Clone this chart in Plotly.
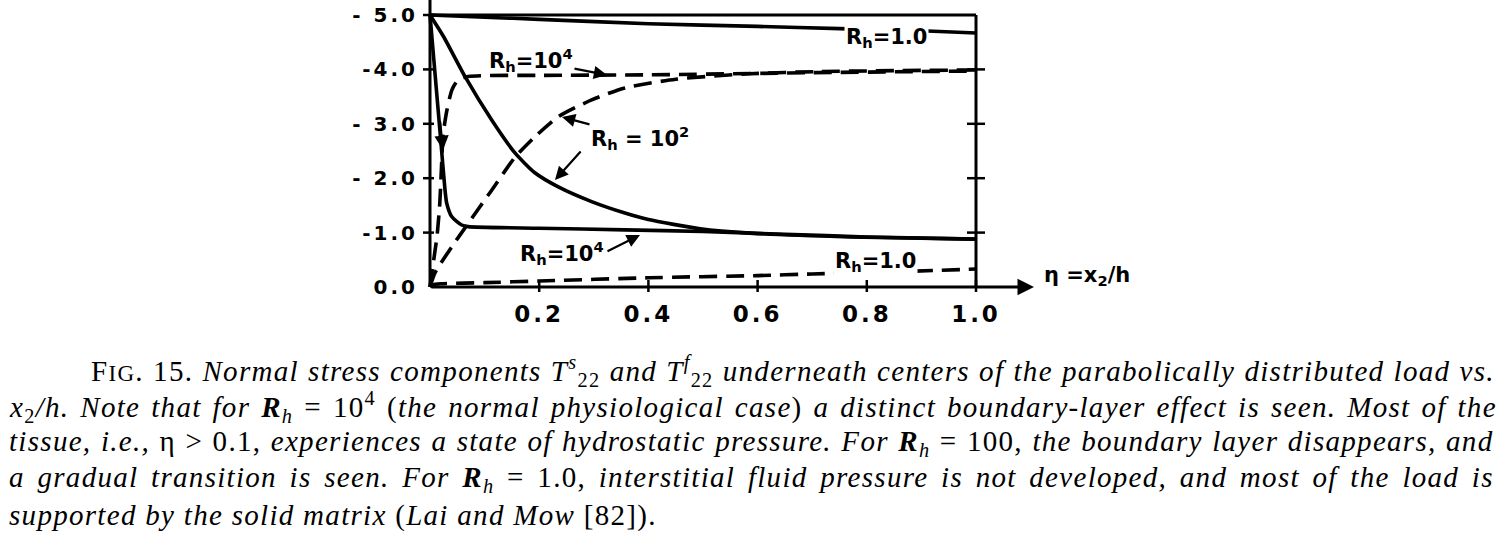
import re
import plotly.graph_objects as go

# ---------------- data ----------------
# Rh = 1.0
eta_s1 = [0, 0.1, 0.2, 0.4, 0.6, 0.75, 0.9, 1.0]
val_s1 = [-5.0, -4.96, -4.92, -4.84, -4.79, -4.75, -4.71, -4.67]
eta_f1 = [0, 0.005, 0.02, 0.1, 0.2, 0.4, 0.6, 0.7, 0.85, 1.0]
val_f1 = [0, -0.04, -0.06, -0.08, -0.11, -0.17, -0.21, -0.24, -0.28, -0.33]
# Rh = 10^2
eta_s2 = [0, 0.025, 0.064, 0.113, 0.156, 0.192, 0.235, 0.296, 0.357, 0.4, 0.495, 0.586, 0.77, 1.0]
val_s2 = [-5.0, -4.6, -3.87, -3.07, -2.46, -2.1, -1.84, -1.57, -1.36, -1.24, -1.07, -0.99, -0.92, -0.88]
eta_f2 = [0, 0.009, 0.04, 0.07, 0.113, 0.156, 0.192, 0.235, 0.296, 0.357, 0.45, 0.586, 0.71, 1.0]
val_f2 = [0, -0.26, -0.74, -1.17, -1.78, -2.39, -2.76, -3.13, -3.44, -3.66, -3.82, -3.92, -3.96, -3.99]
# Rh = 10^4
eta_s4 = [0, 0.007, 0.014, 0.021, 0.0275, 0.0306, 0.04, 0.058, 0.07, 0.2, 0.357, 0.5, 0.65, 0.8, 1.0]
val_s4 = [-5.0, -4.18, -3.36, -2.54, -1.78, -1.54, -1.29, -1.14, -1.11, -1.08, -1.05, -1.02, -0.97, -0.92, -0.88]
eta_f4 = [0, 0.005, 0.013, 0.018, 0.021, 0.024, 0.031, 0.04, 0.051, 0.07, 0.2, 0.4, 0.7, 1.0]
val_f4 = [0, -0.37, -0.95, -1.55, -2.2, -2.8, -3.25, -3.62, -3.8, -3.87, -3.89, -3.9, -3.94, -3.97]

y_tickvals = [0, -1, -2, -3, -4, -5]
y_ticktext = ["0.0", "-1.0", "- 2.0", "- 3.0", "-4.0", "- 5.0"]
x_tickvals = [0.2, 0.4, 0.6, 0.8, 1.0]
x_ticktext = ["0.2", "0.4", "0.6", "0.8", "1.0"]

caption_lines = [
    "F<span style='font-size:23px'>IG</span>. 15. <i>Normal stress components T</i><sup><i>s</i></sup><sub>22</sub> <i>and T</i><sup><i>f</i></sup><sub>22</sub> <i>underneath centers of the parabolically distributed load vs.</i>",
    "<i>x</i><sub>2</sub><i>/h. Note that for </i><b><i>R</i></b><sub><i>h</i></sub> = 10<sup>4</sup> (<i>the normal physiological case</i>) <i>a distinct boundary-layer effect is seen. Most of the</i>",
    "<i>tissue, i.e., </i>η > 0.1, <i>experiences a state of hydrostatic pressure. For </i><b><i>R</i></b><sub><i>h</i></sub> = 100, <i>the boundary layer disappears, and</i>",
    "<i>a gradual transition is seen. For </i><b><i>R</i></b><sub><i>h</i></sub> = 1.0, <i>interstitial fluid pressure is not developed, and most of the load is</i>",
    "<i>supported by the solid matrix </i>(<i>Lai and Mow</i> [82]).",
]

# ---------------- layout geometry ----------------
W, H = 1508, 545
L, R, T, B = 419, 463, 0, 251
PX0, PX1 = 430, 976          # pixel of eta=0 and eta=1
PY0, PY5 = 287, 15           # pixel of 0.0 and -5.0
sx = (PX1 - PX0)
sy = (PY0 - PY5) / 5.0
xr = [-(PX0 - L) / sx, 1 + (W - R - PX1) / sx]
yr = [(H - B - PY0) / sy, -(PY0 - T) / sy]
PW = W - L - R
PH = H - T - B


def paper_x(px):
    return (px - L) / PW


def paper_y(py):
    return (H - B - py) / PH


def dx(px):
    return (px - PX0) / sx


def dy(py):
    return -(PY0 - py) / sy


# ---- approximate Times metrics (Liberation Serif is metric compatible) for justification ----
_ROMAN = dict(zip(" (),-./0123456789=>[]", [250, 333, 333, 250, 333, 250, 278] + [500] * 10 + [564, 564, 333, 333]))
_ROMAN.update(dict(zip("ABCDEFGHIJKLMNOPQRSTUVWXYZ",
                       [722, 667, 667, 722, 611, 556, 722, 722, 333, 389, 722, 611, 889, 722, 722, 556, 722, 667, 556, 611, 722, 722, 944, 722, 722, 611])))
_ROMAN.update(dict(zip("abcdefghijklmnopqrstuvwxyz",
                       [444, 500, 444, 500, 444, 333, 500, 500, 278, 278, 500, 278, 778, 500, 500, 500, 500, 333, 389, 278, 500, 500, 722, 500, 500, 444])))
_ROMAN["η"] = 500
_ITAL = dict(_ROMAN)
_ITAL.update(dict(zip("ABCDEFGHIJKLMNOPQRSTUVWXYZ",
                      [611, 611, 667, 722, 611, 611, 722, 722, 333, 444, 667, 556, 833, 667, 722, 611, 722, 611, 500, 556, 722, 611, 833, 611, 556, 556])))
_ITAL.update(dict(zip("abcdefghijklmnopqrstuvwxyz",
                      [500, 500, 444, 500, 444, 278, 500, 500, 278, 278, 444, 278, 722, 500, 500, 500, 500, 389, 389, 278, 500, 444, 667, 444, 444, 389])))
_ITAL[" "] = 250


def measure(html, size, ls):
    width, nsp = 0.0, 0
    ital = bold = False
    scale = [1.0]
    for tok in re.split(r"(<[^>]+>)", html):
        if tok.startswith("<"):
            t = tok.lower()
            if t == "<i>":
                ital = True
            elif t == "</i>":
                ital = False
            elif t == "<b>":
                bold = True
            elif t == "</b>":
                bold = False
            elif t in ("<sub>", "<sup>"):
                scale.append(scale[-1] * 0.7)
            elif t in ("</sub>", "</sup>", "</span>"):
                scale.pop()
            elif t.startswith("<span"):
                m = re.search(r"font-size:(\d+)px", t)
                scale.append(float(m.group(1)) / size if m else scale[-1])
            continue
        for ch in tok:
            table = _ITAL if ital else _ROMAN
            w = table.get(ch, 500)
            if bold and ch == "R":
                w = 667
            width += w / 1000.0 * size * scale[-1] + ls
            if ch == " ":
                nsp += 1
    return width, nsp


LW = 3.6
DASH = "18px,9px"
fig = go.Figure()
for ex, vy, dash in [
    (eta_s1, val_s1, "solid"), (eta_f1, val_f1, DASH),
    (eta_s2, val_s2, "solid"), (eta_f2, val_f2, DASH),
    (eta_s4, val_s4, "solid"), (eta_f4, val_f4, DASH),
]:
    fig.add_trace(go.Scatter(x=ex, y=vy, mode="lines",
                             line=dict(color="black", width=LW, dash=dash, shape="spline", smoothing=0.6),
                             hoverinfo="skip", showlegend=False))

shapes = []
FW = 3
shapes.append(dict(type="line", xref="x", yref="y", x0=0, x1=0, y0=0, y1=yr[1], line=dict(color="black", width=FW)))
shapes.append(dict(type="line", xref="x", yref="y", x0=0, x1=1, y0=-5, y1=-5, line=dict(color="black", width=FW)))
shapes.append(dict(type="line", xref="x", yref="y", x0=1, x1=1, y0=0, y1=-5, line=dict(color="black", width=FW)))
for v in x_tickvals:
    shapes.append(dict(type="line", xref="x", yref="y", x0=v, x1=v, y0=5 / sy, y1=-7 / sy,
                       line=dict(color="black", width=2.5)))
for v in [-1, -2, -3, -4, -5]:
    shapes.append(dict(type="line", xref="x", yref="y", x0=-7 / sx, x1=4 / sx, y0=v, y1=v,
                       line=dict(color="black", width=2.5)))
for v in [-1, -2, -3, -4]:
    shapes.append(dict(type="line", xref="x", yref="y", x0=1 - 9 / sx, x1=1 + 9 / sx, y0=v, y1=v,
                       line=dict(color="black", width=2.5)))

LF = dict(family="DejaVu Sans", size=21, color="black", weight="bold")
ann = []
# x axis drawn as an arrow
ann.append(dict(x=dx(1034), y=0, xref="x", yref="y", ax=0, ay=0, axref="x", ayref="y",
                text="", showarrow=True, arrowhead=2, arrowsize=1.1, arrowwidth=FW, arrowcolor="black"))
ann.append(dict(x=paper_x(1042), y=paper_y(276), xref="paper", yref="paper", xanchor="left", yanchor="middle",
                text="η =x<sub>2</sub>/h", showarrow=False, font=dict(family="DejaVu Sans", size=21, color="black", weight="bold")))

AR = dict(showarrow=True, arrowhead=2, arrowsize=1.2, arrowwidth=2.2, arrowcolor="black", xref="x", yref="y")
ann.append(dict(x=dx(607), y=dy(75), ax=531 - 607, ay=60 - 75, text="R<sub>h</sub>=10<sup>4</sup>", font=LF, **AR))
ann.append(dict(x=dx(562), y=dy(117), ax=640 - 562, ay=138 - 117, text="R<sub>h</sub> = 10<sup>2</sup>", font=LF, **AR))
ann.append(dict(x=dx(555), y=dy(180), ax=582 - 555, ay=150 - 180, text="", **AR))
ann.append(dict(x=dx(562), y=dy(253), text="R<sub>h</sub>=10<sup>4</sup>", font=LF, showarrow=False,
                xref="x", yref="y"))
ann.append(dict(x=dx(640), y=dy(235), ax=dx(606), ay=dy(252), axref="x", ayref="y", text="",
                showarrow=True, arrowhead=2, arrowsize=1.2, arrowwidth=2.2, arrowcolor="black", xref="x", yref="y"))
# small arrowhead on the steep Rh=10^4 solid curve
ann.append(dict(x=dx(443), y=dy(150), ax=dx(440), ay=dy(120), axref="x", ayref="y", text="",
                showarrow=True, arrowhead=2, arrowsize=1.3, arrowwidth=2.2, arrowcolor="black", xref="x", yref="y"))
ann.append(dict(x=dx(886), y=dy(38), xref="x", yref="y", text="R<sub>h</sub>=1.0", showarrow=False,
                font=LF, bgcolor="white", borderpad=1))
ann.append(dict(x=dx(875), y=dy(262), xref="x", yref="y", text="R<sub>h</sub>=1.0", showarrow=False,
                font=LF, bgcolor="white", borderpad=1))

# caption (justified with word spacing)
CS = 29
LS = 1.3
cap_base = [381, 417, 453, 489, 525]
cap_x = [90, 8, 8, 8, 8]
RIGHT = 1495
for i, (txt, base, px) in enumerate(zip(caption_lines, cap_base, cap_x)):
    w, nsp = measure(txt, CS, LS)
    ws = 0.0
    if i < len(caption_lines) - 1 and nsp:
        ws = (RIGHT - px - w) / nsp
    styled = "<span style='letter-spacing:%.2fpx;word-spacing:%.2fpx'>%s</span>" % (LS, ws, txt)
    ann.append(dict(x=paper_x(px), y=paper_y(base - 10), xref="paper", yref="paper", xanchor="left",
                    yanchor="middle", text=styled, showarrow=False, borderpad=0,
                    font=dict(family="Liberation Serif", size=CS, color="black")))

fig.update_layout(
    width=W, height=H, margin=dict(l=L, r=R, t=T, b=B, pad=0),
    paper_bgcolor="white", plot_bgcolor="white",
    xaxis=dict(range=xr, showgrid=False, zeroline=False, showline=False,
               tickmode="array", tickvals=x_tickvals,
               ticktext=["<span style='letter-spacing:3px'>%s</span>" % t for t in x_ticktext],
               ticks="", ticklabelstandoff=4,
               tickfont=dict(family="DejaVu Sans", size=23, color="black", weight="bold")),
    yaxis=dict(range=yr, showgrid=False, zeroline=False, showline=False,
               tickmode="array", tickvals=y_tickvals,
               ticktext=["<span style='letter-spacing:3px'>%s</span>" % t for t in y_ticktext],
               ticks="", tickfont=dict(family="DejaVu Sans", size=20, color="black", weight="bold")),
    shapes=shapes, annotations=ann, showlegend=False,
)
fig.write_html("out.html")
